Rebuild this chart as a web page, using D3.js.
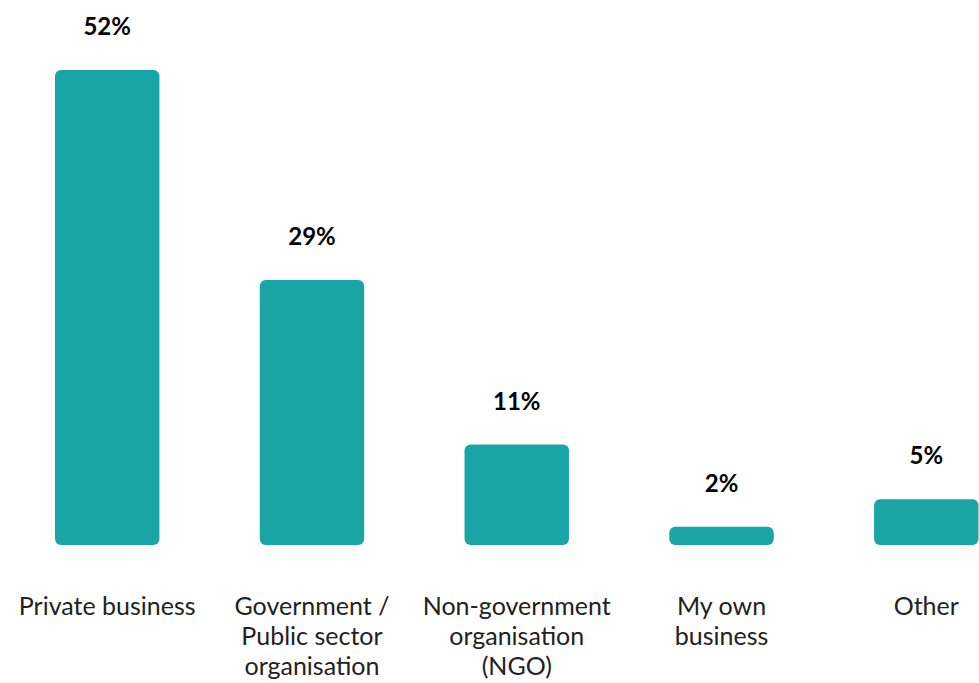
<!DOCTYPE html>
<html>
<head>
<meta charset="utf-8">
<script src="https://cdn.jsdelivr.net/npm/d3@7"></script>
<style>
  html, body { margin: 0; padding: 0; background: #fff; }
  svg { display: block; }
</style>
</head>
<body>
<svg id="chart" width="979" height="683"></svg>
<script>
const categories = ["Private business", "Government / Public sector organisation", "Non-government organisation (NGO)", "My own business", "Other"];
const categoryLines = [["Private business"], ["Government /", "Public sector", "organisation"], ["Non-government", "organisation", "(NGO)"], ["My own", "business"], ["Other"]];
const values = [52, 29, 11, 2, 5];
const valueLabels = ["52%", "29%", "11%", "2%", "5%"];

const svg = d3.select("#chart");
const font = "Lato, 'Open Sans', sans-serif";
const color = "#19A5A5";

const x = d3.scaleBand().domain(categories).range([55, 978.5]).paddingInner(0.49).paddingOuter(0);
const y = d3.scaleLinear().domain([0, 52]).range([545, 70]);

svg.selectAll("rect.bar").data(values).join("rect")
  .attr("class", "bar")
  .attr("x", (d, i) => x(categories[i]))
  .attr("y", d => y(d))
  .attr("width", x.bandwidth())
  .attr("height", d => y(0) - y(d))
  .attr("rx", 6).attr("ry", 6)
  .attr("fill", color);

svg.selectAll("text.val").data(values).join("text")
  .attr("class", "val")
  .attr("x", (d, i) => x(categories[i]) + x.bandwidth() / 2)
  .attr("y", d => y(d) - 35)
  .attr("text-anchor", "middle")
  .attr("font-family", font)
  .attr("font-weight", "bold")
  .attr("font-size", 24)
  .attr("fill", "#000")
  .text((d, i) => valueLabels[i]);

const cat = svg.selectAll("text.cat").data(categories).join("text")
  .attr("class", "cat")
  .attr("x", d => x(d) + x.bandwidth() / 2)
  .attr("y", 615)
  .attr("text-anchor", "middle")
  .attr("font-family", font)
  .attr("font-size", 25)
  .attr("fill", "#222");
cat.each(function(d, i) {
  d3.select(this).selectAll("tspan").data(categoryLines[i]).join("tspan")
    .attr("x", x(d) + x.bandwidth() / 2)
    .attr("dy", (t, j) => j === 0 ? 0 : 30)
    .text(t => t);
});
</script>
</body>
</html>
